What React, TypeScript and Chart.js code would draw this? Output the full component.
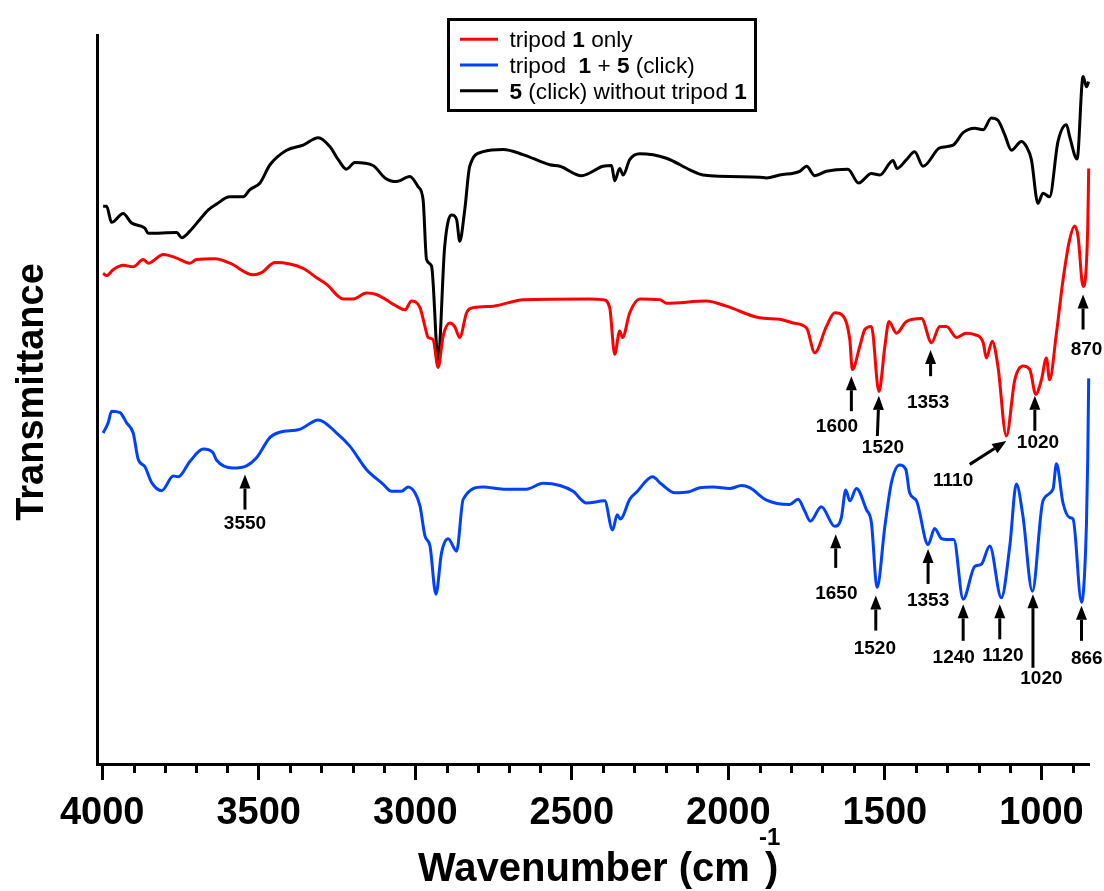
import { useEffect, useRef } from 'react';
import { Chart, registerables } from 'chart.js';

Chart.register(...registerables);

const FONT = '"Liberation Sans", Arial, Helvetica, sans-serif';

// ---------- data (wavenumber in cm-1, transmittance in arbitrary units) ----------
const redWavenumber = [3997, 3986, 3965, 3933, 3901, 3869, 3853, 3805, 3762, 3720, 3699, 3640, 3592, 3518, 3491, 3448, 3358, 3315, 3283, 3230, 3198, 3156, 3124, 3060, 3033, 3012, 2985, 2969, 2959, 2943, 2927, 2911, 2890, 2874, 2858, 2836, 2815, 2751, 2656, 2443, 2400, 2379, 2363, 2347, 2338, 2315, 2283, 2219, 2198, 2070, 2006, 1900, 1836, 1793, 1750, 1724, 1687, 1660, 1634, 1612, 1604, 1580, 1564, 1543, 1519, 1500, 1487, 1463, 1431, 1383, 1351, 1325, 1303, 1271, 1240, 1213, 1186, 1176, 1157, 1139, 1112, 1085, 1059, 1037, 1018, 1000, 984, 974, 952, 931, 910, 894, 883, 867, 852, 849];
const redT = [67.3, 67.0, 67.8, 68.4, 68.2, 69.2, 68.7, 69.9, 69.4, 68.7, 69.2, 69.3, 68.7, 67.1, 67.4, 68.8, 68.0, 66.7, 65.8, 63.8, 63.8, 64.6, 64.4, 62.8, 62.3, 63.5, 62.6, 60.0, 58.5, 58.2, 54.4, 58.7, 60.5, 60.0, 58.5, 61.9, 62.6, 62.8, 63.7, 63.8, 63.7, 62.6, 56.2, 59.4, 58.5, 61.9, 63.8, 63.7, 63.2, 63.5, 62.8, 61.2, 61.0, 60.5, 59.8, 56.4, 60.0, 61.9, 61.5, 58.2, 54.1, 57.3, 59.6, 60.0, 51.1, 57.3, 60.7, 59.1, 60.7, 61.1, 57.8, 60.0, 60.0, 58.5, 59.1, 58.9, 57.8, 55.7, 58.0, 54.6, 45.0, 52.7, 54.6, 54.1, 50.7, 52.7, 55.7, 52.7, 59.1, 66.4, 71.9, 73.8, 72.4, 65.5, 73.7, 81.7];

const blueWavenumber = [3997, 3981, 3970, 3943, 3922, 3901, 3885, 3864, 3842, 3810, 3773, 3757, 3720, 3677, 3646, 3635, 3582, 3539, 3507, 3464, 3433, 3369, 3310, 3251, 3209, 3156, 3103, 3076, 3044, 3023, 3001, 2985, 2969, 2953, 2934, 2916, 2895, 2868, 2847, 2783, 2719, 2645, 2592, 2538, 2496, 2453, 2395, 2370, 2355, 2345, 2315, 2293, 2242, 2214, 2171, 2129, 2091, 2049, 1995, 1958, 1932, 1878, 1804, 1777, 1756, 1738, 1703, 1660, 1639, 1625, 1612, 1591, 1559, 1543, 1525, 1500, 1479, 1453, 1433, 1421, 1399, 1362, 1341, 1319, 1303, 1280, 1250, 1213, 1192, 1165, 1128, 1101, 1080, 1059, 1029, 995, 963, 952, 931, 910, 899, 872, 856, 852, 849];
const blueT = [45.4, 46.8, 48.4, 48.2, 46.8, 45.4, 41.8, 40.8, 38.6, 37.5, 39.5, 39.4, 41.5, 43.2, 42.7, 41.7, 40.6, 40.9, 42.0, 44.8, 45.5, 45.9, 47.2, 45.4, 43.6, 40.4, 38.4, 37.4, 37.4, 38.0, 37.2, 35.4, 31.3, 29.9, 23.3, 29.0, 30.9, 29.2, 36.3, 38.0, 37.7, 37.7, 38.5, 38.2, 37.4, 35.8, 36.1, 32.1, 34.2, 33.6, 36.3, 37.3, 39.4, 38.4, 37.2, 37.3, 37.9, 38.0, 37.8, 38.2, 37.9, 36.2, 35.6, 36.3, 34.7, 33.3, 35.3, 32.6, 33.8, 37.6, 36.1, 37.8, 34.9, 33.1, 24.2, 32.6, 38.6, 41.0, 40.4, 37.2, 36.1, 30.1, 32.3, 30.9, 30.8, 30.8, 22.6, 27.1, 27.4, 29.9, 22.8, 29.9, 38.4, 34.0, 23.7, 36.1, 37.7, 41.2, 35.8, 33.8, 33.6, 22.2, 33.1, 42.0, 52.9];

const blackWavenumber = [3997, 3986, 3970, 3933, 3906, 3864, 3853, 3762, 3746, 3720, 3688, 3661, 3635, 3592, 3550, 3528, 3496, 3464, 3411, 3358, 3310, 3273, 3246, 3220, 3193, 3135, 3097, 3060, 3017, 2991, 2975, 2964, 2948, 2927, 2906, 2884, 2868, 2858, 2842, 2826, 2783, 2719, 2656, 2570, 2538, 2469, 2400, 2373, 2363, 2347, 2336, 2315, 2283, 2198, 2123, 2081, 1900, 1878, 1836, 1772, 1750, 1724, 1687, 1618, 1584, 1543, 1516, 1474, 1461, 1431, 1405, 1378, 1325, 1282, 1250, 1213, 1186, 1160, 1139, 1117, 1096, 1064, 1048, 1032, 1011, 995, 974, 947, 920, 910, 886, 867, 856, 849];
const blackT = [76.5, 76.5, 74.3, 75.5, 74.2, 73.5, 72.8, 72.9, 72.2, 73.1, 74.7, 76.0, 76.8, 77.8, 77.8, 78.8, 79.7, 82.2, 84.2, 84.9, 85.9, 84.7, 82.9, 81.6, 82.5, 82.1, 80.4, 79.9, 80.6, 79.2, 77.4, 69.2, 68.3, 55.5, 71.0, 75.3, 74.7, 71.7, 76.0, 82.0, 84.0, 84.3, 83.6, 82.2, 82.0, 80.7, 82.0, 82.1, 80.0, 81.7, 80.8, 82.9, 83.7, 83.1, 81.5, 80.8, 80.5, 80.4, 80.8, 81.3, 82.0, 80.7, 81.3, 81.6, 79.7, 81.0, 80.8, 82.8, 81.7, 82.9, 84.0, 82.0, 84.5, 84.9, 86.6, 87.2, 87.0, 88.6, 88.3, 86.3, 84.2, 85.4, 84.7, 82.9, 76.9, 78.3, 77.8, 85.4, 87.7, 86.1, 83.0, 94.3, 92.9, 93.6];

const seriesColors = ['#ff0000', '#0040ff', '#000000'];
const seriesNames = ['tripod 1 only', 'tripod  1 + 5 (click)', '5 (click) without tripod 1'];
// legend text runs: [text, bold]
const legendRuns: [string, boolean][][] = [
  [['tripod ', false], ['1', true], [' only', false]],
  [['tripod  ', false], ['1', true], [' + ', false], ['5', true], [' (click)', false]],
  [['5', true], [' (click) without tripod ', false], ['1', true]],
];

// peak annotations: [label, tipWn, tipT, tailWn, tailT, labelWn, labelT]
const redPeaks: [string, number, number, number, number, number, number][] = [
  ['870', 867, 64.4, 867, 59.6, 856, 56.8],
  ['1600', 1607, 53.2, 1607, 48.4, 1653, 46.3],
  ['1520', 1519, 50.5, 1524, 45.0, 1506, 43.4],
  ['1353', 1354, 56.8, 1354, 53.2, 1362, 49.5],
  ['1020', 1021, 50.5, 1021, 45.7, 1011, 44.1],
  ['1110', 1112, 44.3, 1229, 41.1, 1282, 38.8],
];
const bluePeaks: [string, number, number, number, number, number, number][] = [
  ['3550', 3544, 39.7, 3544, 34.9, 3544, 33.0],
  ['1650', 1657, 31.5, 1657, 26.9, 1655, 23.3],
  ['1520', 1529, 23.1, 1529, 18.3, 1532, 15.8],
  ['1353', 1362, 29.5, 1362, 24.7, 1362, 22.4],
  ['1240', 1250, 21.9, 1250, 16.9, 1280, 14.6],
  ['1120', 1133, 21.9, 1133, 17.1, 1123, 14.8],
  ['1020', 1027, 23.3, 1027, 13.2, 1000, 11.7],
  ['866', 872, 21.7, 872, 16.9, 855, 14.5],
];

const majorStep = 500;
const minorStep = 100;
const xMin = 848;
const xMax = 4015;

const toPoints = (xs: number[], ys: number[]) => xs.map((x, i) => ({ x, y: ys[i] }));

const minorTicksPlugin = {
  id: 'minorTicks',
  afterDraw(chart: any) {
    const xs = chart.scales.x;
    const ctx = chart.ctx;
    const y0 = chart.chartArea.bottom;
    ctx.save();
    ctx.strokeStyle = '#000';
    ctx.lineWidth = 3;
    for (let v = Math.ceil(xMin / minorStep) * minorStep; v <= 4000; v += minorStep) {
      if (v % majorStep === 0) continue;
      const px = Math.round(xs.getPixelForValue(v)) + 0.5;
      ctx.beginPath();
      ctx.moveTo(px, y0);
      ctx.lineTo(px, y0 + 9);
      ctx.stroke();
    }
    ctx.restore();
  },
};

const drawArrow = (ctx: CanvasRenderingContext2D, x1: number, y1: number, x2: number, y2: number) => {
  const ang = Math.atan2(y2 - y1, x2 - x1);
  const headLen = 14;
  const headHalf = 5.5;
  const bx = x2 - headLen * Math.cos(ang);
  const by = y2 - headLen * Math.sin(ang);
  ctx.beginPath();
  ctx.moveTo(x1, y1);
  ctx.lineTo(bx, by);
  ctx.stroke();
  ctx.beginPath();
  ctx.moveTo(x2, y2);
  ctx.lineTo(bx + headHalf * Math.sin(ang), by - headHalf * Math.cos(ang));
  ctx.lineTo(bx - headHalf * Math.sin(ang), by + headHalf * Math.cos(ang));
  ctx.closePath();
  ctx.fill();
};

const annotationsPlugin = {
  id: 'peakAnnotations',
  afterDatasetsDraw(chart: any) {
    const ctx = chart.ctx as CanvasRenderingContext2D;
    const xs = chart.scales.x;
    const ys = chart.scales.y;
    ctx.save();
    ctx.strokeStyle = '#000';
    ctx.fillStyle = '#000';
    ctx.lineWidth = 3;
    ctx.font = `bold 19px ${FONT}`;
    ctx.textAlign = 'center';
    ctx.textBaseline = 'middle';
    [...redPeaks, ...bluePeaks].forEach(([label, tw, tt, aw, at, lw, lt]) => {
      drawArrow(ctx, xs.getPixelForValue(aw), ys.getPixelForValue(at), xs.getPixelForValue(tw), ys.getPixelForValue(tt));
      ctx.fillText(label, xs.getPixelForValue(lw), ys.getPixelForValue(lt));
    });
    ctx.restore();
  },
};

const legendPlugin = {
  id: 'customLegend',
  afterDraw(chart: any) {
    const ctx = chart.ctx as CanvasRenderingContext2D;
    ctx.save();
    ctx.fillStyle = '#fff';
    ctx.fillRect(440.5, 11.5, 307, 91);
    ctx.strokeStyle = '#000';
    ctx.lineWidth = 3;
    ctx.strokeRect(440.5, 11.5, 307, 91);
    const rowY = [31.3, 57, 82.7];
    legendRuns.forEach((runs, i) => {
      ctx.strokeStyle = seriesColors[i];
      ctx.lineWidth = 3;
      ctx.beginPath();
      ctx.moveTo(452, rowY[i]);
      ctx.lineTo(490, rowY[i]);
      ctx.stroke();
      let x = 501.5;
      ctx.fillStyle = '#000';
      ctx.textBaseline = 'middle';
      ctx.textAlign = 'left';
      runs.forEach(([t, b]) => {
        ctx.font = `${b ? 'bold ' : ''}22.6px ${FONT}`;
        ctx.fillText(t, x, rowY[i] + 1.8);
        x += ctx.measureText(t).width;
      });
    });
    ctx.restore();
  },
};

const titlesPlugin = {
  id: 'axisTitles',
  afterDraw(chart: any) {
    const ctx = chart.ctx as CanvasRenderingContext2D;
    ctx.save();
    ctx.fillStyle = '#000';
    // y title
    ctx.save();
    ctx.translate(34.7, 384);
    ctx.rotate(-Math.PI / 2);
    ctx.font = `bold 38px ${FONT}`;
    ctx.textAlign = 'center';
    ctx.textBaseline = 'alphabetic';
    ctx.fillText('Transmittance', 0, 0);
    ctx.restore();
    // x title with superscript
    ctx.textAlign = 'left';
    ctx.textBaseline = 'alphabetic';
    ctx.font = `bold 40px ${FONT}`;
    const main = 'Wavenumber (cm';
    const x0 = 410;
    const base = 873;
    ctx.fillText(main, x0, base);
    const w = ctx.measureText(main).width;
    ctx.font = `bold 24px ${FONT}`;
    ctx.fillText('-1', x0 + w + 9, base - 36);
    ctx.font = `bold 40px ${FONT}`;
    ctx.fillText(')', x0 + w + 15, base);
    ctx.restore();
  },
};

export default function App() {
  const ref = useRef<HTMLCanvasElement>(null);
  useEffect(() => {
    document.documentElement.style.overflow = 'hidden';
    document.body.style.margin = '0';
    const canvas = ref.current;
    if (!canvas) return;
    const chart = new Chart(canvas, {
      type: 'line',
      data: {
        datasets: [
          { label: seriesNames[0], data: toPoints(redWavenumber, redT), borderColor: seriesColors[0] },
          { label: seriesNames[1], data: toPoints(blueWavenumber, blueT), borderColor: seriesColors[1] },
          { label: seriesNames[2], data: toPoints(blackWavenumber, blackT), borderColor: seriesColors[2] },
        ].map((d) => ({
          ...d,
          borderWidth: 3,
          pointRadius: 0,
          fill: false,
          cubicInterpolationMode: 'monotone' as const,
          clip: false as any,
        })),
      },
      options: {
        animation: false,
        responsive: false,
        devicePixelRatio: 1,
        layout: { padding: { top: 27, right: 15, left: 0, bottom: 0 } },
        plugins: { legend: { display: false }, tooltip: { enabled: false }, title: { display: false } },
        scales: {
          x: {
            type: 'linear',
            reverse: true,
            min: xMin,
            max: xMax,
            position: 'bottom',
            afterFit: (s: any) => {
              s.height = 127;
            },
            ticks: {
              stepSize: minorStep,
              autoSkip: false,
              maxRotation: 0,
              minRotation: 0,
              includeBounds: false,
              padding: 11,
              color: '#000',
              font: { family: FONT, size: 38, weight: 'bold' },
              callback: (v: any) => (Number(v) % majorStep === 0 ? String(v) : ''),
            },
            grid: {
              drawOnChartArea: false,
              tickLength: 16,
              tickWidth: 3,
              tickColor: (c: any) => (c.tick && c.tick.value % majorStep === 0 ? '#000' : 'rgba(0,0,0,0)'),
            },
            border: { display: true, color: '#000', width: 3 },
          },
          y: {
            type: 'linear',
            min: 0,
            max: 100,
            afterFit: (s: any) => {
              s.width = 89.5;
            },
            ticks: { display: false },
            grid: { display: false },
            border: { display: true, color: '#000', width: 3 },
          },
        },
      } as any,
      plugins: [minorTicksPlugin, annotationsPlugin, legendPlugin, titlesPlugin],
    });
    return () => chart.destroy();
  }, []);
  return (
    <div style={{ width: 1096, height: 883, padding: '8px 0 0 8px' }}>
      <canvas ref={ref} width={1096} height={883} style={{ display: 'block', width: 1096, height: 883 }} />
    </div>
  );
}
